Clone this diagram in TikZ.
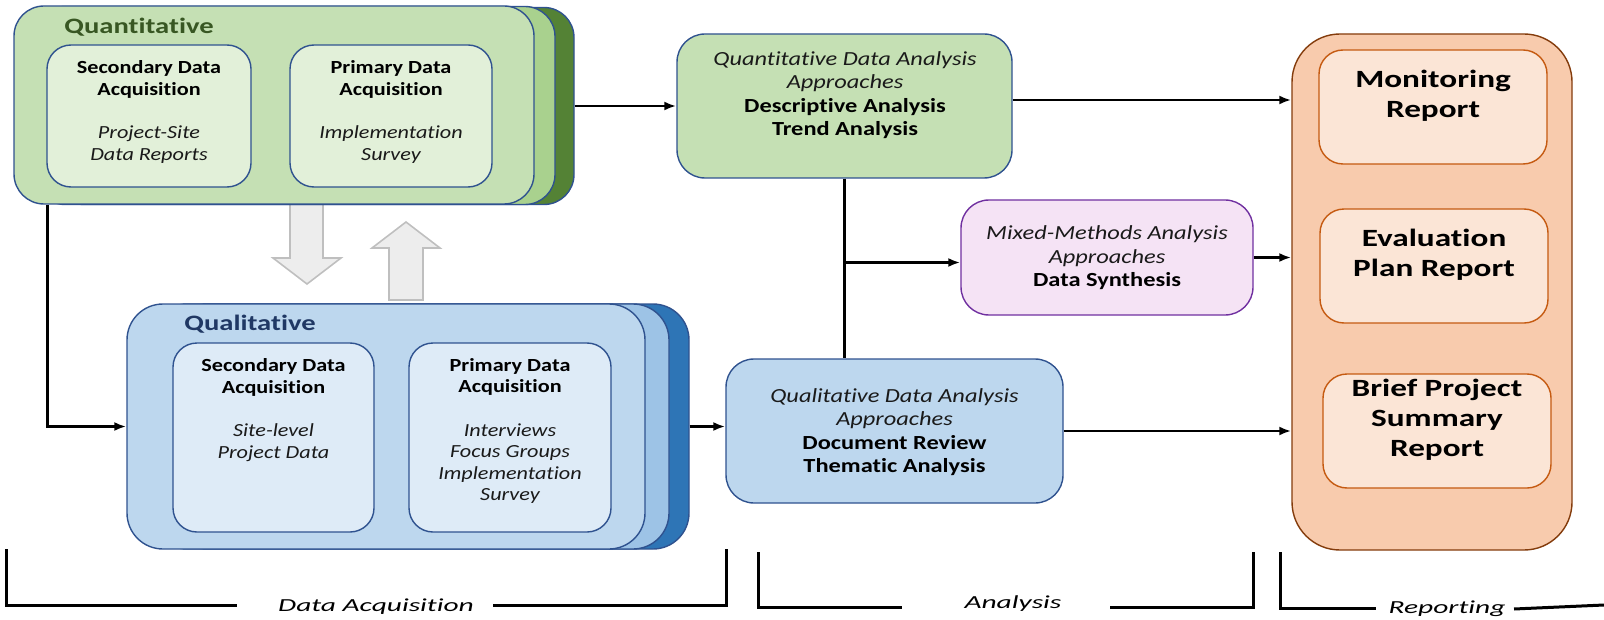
\documentclass[tikz,border=0pt]{standalone}
\usepackage{fontspec}
\setmainfont{Carlito}[Ligatures={NoCommon}]
\newfontfamily\fin{Carlito}[FakeStretch=1.2,Ligatures={NoCommon}]
\newfontfamily\fan{Carlito}[FakeStretch=1.22,Ligatures={NoCommon}]
\newfontfamily\frep{Carlito}[FakeStretch=1.34,Ligatures={NoCommon}]
\newfontfamily\flab{Carlito}[FakeStretch=1.3,Ligatures={NoCommon}]
\newfontfamily\fbot{Carlito}[FakeStretch=1.6,Ligatures={NoCommon}]
\usetikzlibrary{arrows.meta,calc}
\definecolor{qgreen}{HTML}{C5E0B4}
\definecolor{qgreenin}{HTML}{E2F0D9}
\definecolor{qgreenmid}{HTML}{A9D18E}
\definecolor{qgreendk}{HTML}{548235}
\definecolor{bord}{HTML}{2F528F}
\definecolor{lgreen}{HTML}{385723}
\definecolor{qblue}{HTML}{BDD7EE}
\definecolor{qbluein}{HTML}{DEEBF7}
\definecolor{qbluemid}{HTML}{9DC3E6}
\definecolor{qbluedk}{HTML}{2E75B6}
\definecolor{lblue}{HTML}{203864}
\definecolor{mixfill}{HTML}{F5E3F5}
\definecolor{mixbord}{HTML}{7030A0}
\definecolor{repfill}{HTML}{F8CBAD}
\definecolor{repbord}{HTML}{843C0C}
\definecolor{repin}{HTML}{FBE5D6}
\definecolor{repinbord}{HTML}{C55A11}
\definecolor{arrfill}{HTML}{EDEDED}
\definecolor{arrbord}{HTML}{BFBFBF}
\definecolor{ittext}{HTML}{1A1A1A}
\tikzset{
  box/.style={draw=bord, line width=0.7pt, rounded corners=12pt, inner sep=0pt},
  txt/.style={inner sep=0pt, align=center},
  intxt/.style={txt, font=\fin\fontsize{9.25pt}{10.75pt}\selectfont},
  antxt/.style={txt, font=\fan\fontsize{10pt}{11.7pt}\selectfont},
  reptxt/.style={txt, font=\frep\bfseries\fontsize{12.4pt}{15pt}\selectfont},
  bottxt/.style={inner sep=0pt, font=\fbot\itshape\fontsize{9.2pt}{11pt}\selectfont},
  grplabel/.style={anchor=base west, inner sep=0pt, font=\flab\bfseries\fontsize{11pt}{13pt}\selectfont},
  conn/.style={line width=1.3pt, -{Latex[length=6pt,width=4.5pt]}},
  plain/.style={line width=1.3pt},
  brk/.style={line width=1.5pt},
  barrow/.style={fill=arrfill, draw=arrbord, line width=0.8pt}
}
\begin{document}
\begin{tikzpicture}[x=0.5pt,y=-0.5pt]
\useasboundingbox (0,0) rectangle (1604,620);

% block arrows
\draw[barrow] (290,204) -- (323,204) -- (323,258) -- (341,258) -- (307,284) -- (273,258) -- (290,258) -- cycle;
\draw[barrow] (389,300) -- (423,300) -- (423,248) -- (440,248) -- (406,222) -- (372,248) -- (389,248) -- cycle;

% Quantitative group
\node[box, rounded corners=15pt, fill=qgreendk, minimum width=260pt, minimum height=98.5pt] (qback) at (314,106) {};
\node[box, rounded corners=15pt, fill=qgreenmid, minimum width=260pt, minimum height=99pt] (qmid) at (295,105.5) {};
\node[box, rounded corners=15pt, fill=qgreen, minimum width=260pt, minimum height=99pt] (qfront) at (274,105) {};
\node[grplabel, text=lgreen] (qlabel) at (64,34) {Quantitative};
\node[box, fill=qgreenin, minimum width=102pt, minimum height=71pt] (qs) at (149,116) {};
\node[box, fill=qgreenin, minimum width=101pt, minimum height=71pt] (qp) at (391,116) {};
\node[intxt] (qst) at (149,112) {\textbf{Secondary Data}\\\textbf{Acquisition}\\[11pt]\textcolor{ittext}{\itshape Project-Site}\\\textcolor{ittext}{\itshape Data Reports}};
\node[intxt] (qpt) at (391,112) {\textbf{Primary Data}\\\textbf{Acquisition}\\[11pt]\textcolor{ittext}{\itshape Implementation}\\\textcolor{ittext}{\itshape Survey}};

% Qualitative group
\node[box, rounded corners=18pt, fill=qbluedk, minimum width=259pt, minimum height=122.5pt] (qlback) at (430,426.5) {};
\node[box, rounded corners=18pt, fill=qbluemid, minimum width=259pt, minimum height=122.5pt] (qlmid) at (410,426.5) {};
\node[box, rounded corners=18pt, fill=qblue, minimum width=259pt, minimum height=122.5pt] (qlfront) at (386,426.5) {};
\node[grplabel, text=lblue] (qllabel) at (184,330) {Qualitative};
\node[box, fill=qbluein, minimum width=100.5pt, minimum height=94.5pt] (qls) at (273.5,437.5) {};
\node[box, fill=qbluein, minimum width=101pt, minimum height=94.5pt] (qlp) at (510,437.5) {};
\node[intxt] (qlst) at (273.5,410) {\textbf{Secondary Data}\\\textbf{Acquisition}\\[11pt]\textcolor{ittext}{\itshape Site-level}\\\textcolor{ittext}{\itshape Project Data}};
\node[intxt] (qlpt) at (510,431) {\textbf{Primary Data}\\\textbf{Acquisition}\\[11pt]\textcolor{ittext}{\itshape Interviews}\\\textcolor{ittext}{\itshape Focus Groups}\\\textcolor{ittext}{\itshape Implementation}\\\textcolor{ittext}{\itshape Survey}};

% Analysis
\node[box, rounded corners=14pt, fill=qgreen, minimum width=167.5pt, minimum height=72pt] (qa) at (844.5,106) {};
\node[antxt] (qat) at (845,95) {\textcolor{ittext}{\itshape Quantitative Data Analysis}\\\textcolor{ittext}{\itshape Approaches}\\\textbf{Descriptive Analysis}\\\textbf{Trend Analysis}};
\node[box, rounded corners=14pt, draw=mixbord, fill=mixfill, minimum width=146pt, minimum height=57.5pt] (mixed) at (1107,257.5) {};
\node[antxt] (mixedt) at (1107,258) {\textcolor{ittext}{\itshape Mixed-Methods Analysis}\\\textcolor{ittext}{\itshape Approaches}\\\textbf{Data Synthesis}};
\node[box, rounded corners=14pt, fill=qblue, minimum width=168.5pt, minimum height=72pt] (qlan) at (894.5,431) {};
\node[antxt] (qlant) at (894.5,432) {\textcolor{ittext}{\itshape Qualitative Data Analysis}\\\textcolor{ittext}{\itshape Approaches}\\\textbf{Document Review}\\\textbf{Thematic Analysis}};

% Reporting
\node[box, rounded corners=24pt, draw=repbord, fill=repfill, minimum width=140pt, minimum height=258pt] (rep) at (1432,292) {};
\node[box, draw=repinbord, fill=repin, minimum width=114pt, minimum height=57pt] (mon) at (1433,107) {};
\node[reptxt] (mont) at (1433,96) {Monitoring\\Report};
\node[box, draw=repinbord, fill=repin, minimum width=114pt, minimum height=57pt] (eval) at (1434,266) {};
\node[reptxt] (evalt) at (1434,255) {Evaluation\\Plan Report};
\node[box, draw=repinbord, fill=repin, minimum width=114pt, minimum height=57pt] (brief) at (1437,431) {};
\node[reptxt] (brieft) at (1437,420) {Brief Project\\Summary\\Report};

% connectors
\draw[conn] (qback.east) -- (qback.east -| qa.west);
\draw[conn] ([xshift=17pt]qfront.south west) |- (qlfront.west);
\draw[conn] (qlback.east) -- (qlback.east -| qlan.west);
\draw[plain] (qa.south) -- (qa.south |- qlan.north);
\draw[conn] ($(qa.south |- mixed.west)+(0,5)$) -- ($(mixed.west)+(0,5)$);
\draw[conn] ($(qa.east)+(0,-6)$) -- ($(qa.east -| rep.west)+(0,-6)$);
\draw[conn] (mixed.east) -- (mixed.east -| rep.west);
\draw[conn] (qlan.east) -- (qlan.east -| rep.west);

% bottom brackets
\node[bottxt] (dal) at (376,607) {Data Acquisition};
\node[bottxt] (anl) at (1013,604) {Analysis};
\node[bottxt] (repl) at (1447,609) {Reporting};
\draw[brk] (6,549) -- (6,605) -- (237,605);
\draw[brk] (493,605) -- (726,605) -- (726,549);
\draw[brk] (758,552) -- (758,607) -- (902,607);
\draw[brk] (1110,607) -- (1253,607) -- (1253,552);
\draw[brk] (1280,552) -- (1280,608) -- (1376,608);
\draw[brk] (1514,609) -- (1604,605);
\end{tikzpicture}
\end{document}
